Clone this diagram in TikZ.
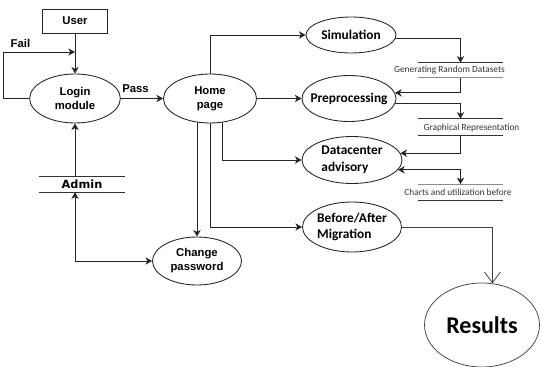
\documentclass[tikz,border=0pt]{standalone}
\usepackage{fontspec}
\setmainfont{Liberation Sans}
\newfontfamily\calfont{Carlito}
\newfontfamily\dvfont{DejaVu Sans}
\usetikzlibrary{arrows.meta,shapes.geometric,calc,backgrounds}
\begin{document}
\begin{tikzpicture}[x=0.75pt,y=-0.75pt,
  line/.style={draw=black!85, line width=0.65pt},
  arr/.style={line, -{Stealth[length=5pt,width=5.5pt,inset=1.5pt]}},
  darr/.style={line, {Stealth[length=5pt,width=5.5pt,inset=1.5pt]}-{Stealth[length=5pt,width=5.5pt,inset=1.5pt]}},
  barr/.style={draw=black!75, line width=0.55pt, -{Straight Barb[length=8pt,width=12pt]}},
  ell/.style={ellipse, draw=black!85, line width=0.65pt, fill=white, inner sep=0pt},
  afont/.style={font=\fontsize{8.5}{10.5}\selectfont\bfseries, align=center},
  cfont/.style={font=\calfont\fontsize{10}{12.5}\selectfont\bfseries, align=left},
  lbl/.style={font=\calfont\fontsize{7}{8}\selectfont, text=black!80, inner sep=0pt},
  lbox/.style={minimum width=63.75pt, inner sep=0pt},
  bar/.style={draw=black!80, line width=0.65pt},
  lbar/.style={draw=black!45, line width=0.6pt}
]
\useasboundingbox (0,0) rectangle (542,367);

% nodes
\node[draw=black!85, line width=0.65pt, minimum width=48.75pt, minimum height=18pt, inner sep=0pt, afont] (user) at (75,21) {User};
\node[ell, minimum width=68pt, minimum height=36.75pt, label={[afont]center:{Login\\module}}] (login) at (75,98.5) {};
\node[ell, minimum width=69.75pt, minimum height=36.75pt, label={[afont]center:{Home\\page}}] (home) at (210,98.5) {};
\node[ell, minimum width=67.5pt, minimum height=27pt, label={[cfont]center:Simulation}] (sim) at (351,35) {};
\node[ell, minimum width=70.5pt, minimum height=34.5pt, label={[cfont]center:Preprocessing}] (prep) at (349,98.5) {};
\node[ell, minimum width=75pt, minimum height=35.25pt, label={[cfont]center:{Datacenter\\advisory}}] (dc) at (352,160) {};
\node[ell, minimum width=74.25pt, minimum height=37.5pt, label={[cfont]center:{Before/After\\Migration}}] (ba) at (352,227) {};
\node[ell, minimum width=66.75pt, minimum height=36pt, label={[afont]center:{Change\\password}}] (cp) at (197,261) {};
\node[ellipse, draw=black!75, line width=0.55pt, fill=white, inner sep=0pt, minimum width=86.25pt, minimum height=63pt,
      label={[font=\calfont\fontsize{18}{20}\selectfont\bfseries]center:Results}] (res) at (482,325) {};

% admin data store
\node[minimum width=64.5pt, minimum height=11.25pt, inner sep=0pt, font=\dvfont\fontsize{8.5}{10}\selectfont\bfseries] (admin) at (82,184.5) {Admin};
\draw[bar] (admin.north west) -- (admin.north east);
\draw[bar] (admin.south west) -- (admin.south east);

% label stores
\node[lbox, minimum height=10.5pt] (genbox) at (460.5,70) {};
\node[lbl] (gentxt) at (449.5,70.5) {Generating Random Datasets};
\draw[bar] (genbox.north west) -- (genbox.north east);
\draw[lbar] (genbox.south west) -- (genbox.south east);

\node[lbox, minimum height=12pt] (graphbox) at (460.5,127) {};
\node[lbl] (graphtxt) at (471.5,128) {Graphical Representation};
\draw[bar] (graphbox.north west) -- (graphbox.north east);
\draw[bar] (graphbox.south west) -- (graphbox.south east);

\node[lbox, minimum height=12pt] (chartbox) at (460.5,192.5) {};
\node[lbl] (charttxt) at (458,192) {Charts and utilization before};
\draw[lbar] (chartbox.north west) -- (chartbox.north east);
\draw[bar] (chartbox.south west) -- (chartbox.south east);

% edge labels
\node[afont, inner sep=0pt] (pass) at (135.5,89) {Pass};
\node[afont, inner sep=0pt] (fail) at (20.5,43) {Fail};
\coordinate (failc) at (3,52);

% connectors
\begin{scope}[on background layer]
\draw[arr] (user.south) -- (login.north);
\draw[arr] (login.west) -| (failc) -- (failc -| login.north);
\draw[arr] (login.east) -- (home.west);
\draw[arr] (home.north) |- (sim.west);
\draw[arr] (home.east) -- (prep.west);
\draw[arr] (sim.-5) -| (genbox.north);
\draw[arr] (genbox.south) |- (prep.7);
\draw[arr] (prep.-6) -| (graphbox.north);
\draw[arr] (graphbox.south) |- (dc.8);
\draw[darr] (dc.-12) -| (chartbox.north);
\draw[arr] ($(home.center)+(12,0)$) |- (dc.west);
\draw[arr] (home.center) |- (ba.west);
\draw[arr] (home.center -| cp.north) -- (cp.north);
\draw[arr] (admin.north -| login.south) -- (login.south);
\draw[darr] (admin.south -| login.south) |- (cp.west);
\draw[barr] (ba.east) -| (res.76);
\end{scope}
\end{tikzpicture}
\end{document}
